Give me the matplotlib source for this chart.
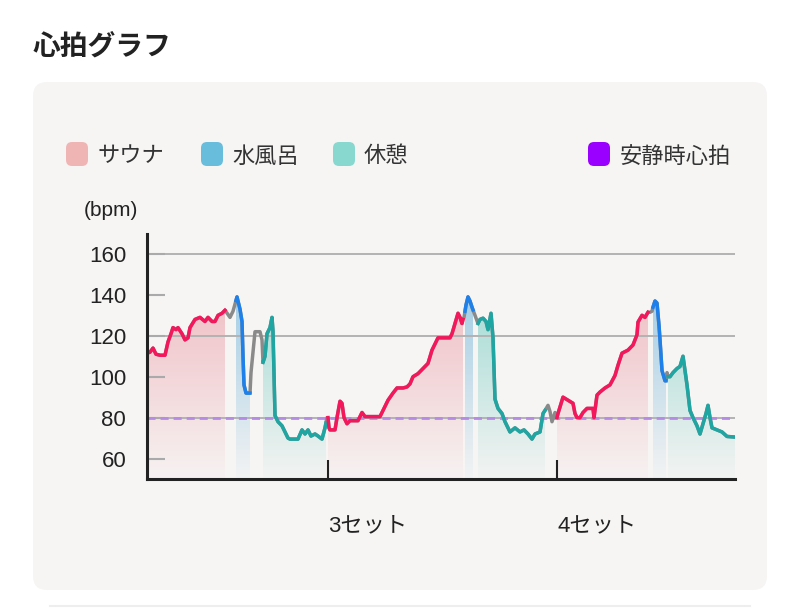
import numpy as np
import matplotlib
matplotlib.use('Agg')
import matplotlib.pyplot as plt
from matplotlib.patches import FancyBboxPatch
from matplotlib.transforms import IdentityTransform

plt.rcParams['font.family'] = ['Liberation Sans', 'Noto Sans CJK JP', 'DejaVu Sans']

# Heart rate samples (elapsed in 15 second steps, bpm)
elapsed = [0, 3, 6, 9, 13, 18, 21, 24, 26, 29, 31, 35, 38, 41, 43, 48, 53, 58, 61, 65, 68, 71, 75, 78,
           83, 86, 90,
           93, 95, 96, 97, 99, 103,
           104, 106, 108, 113, 115, 116,
           118, 120, 123, 125, 126, 128, 131, 135, 138, 141, 143, 148, 151, 155, 158, 161, 164, 168, 171, 175, 178, 180,
           181, 182,
           183, 188, 190, 193, 195, 197, 200, 203, 211, 215, 218, 233, 236, 241, 246, 250, 256, 260, 263, 266,
           271, 276, 281, 285, 288, 291, 303, 305, 308, 311, 313, 315, 316,
           317, 319, 321, 323, 325, 328, 331,
           333, 336, 339, 341, 344, 346, 348, 351, 355, 358, 363, 368, 373, 377, 381, 385, 388, 393, 396,
           398, 401, 403, 405, 408, 410,
           411, 416, 421, 426, 428, 430, 433, 436, 440, 446, 447, 450, 453, 458, 463, 468, 471, 475, 481, 486,
           490, 491, 495, 498, 501,
           503, 505, 506, 508, 510, 512, 513, 515, 518, 519, 520, 521,
           523, 526, 530, 533, 536, 540, 543, 546, 550, 553, 556, 559, 561, 563, 565, 570, 575, 580, 588]
bpm = [111.5, 112, 114, 111, 110.5, 110.5, 117, 121, 124, 123, 124, 121, 118, 119, 124, 128, 129, 127, 129, 127, 127, 130, 131, 132.5,
       129, 132, 139,
       133, 127, 110, 96, 92, 92,
       102, 112, 122, 122, 118, 107,
       110, 121, 124, 129, 122, 81, 78, 76, 73, 70, 69.5, 69.5, 69.5, 74, 72, 74, 71, 72, 71, 69.5, 75, 80,
       80, 75,
       74, 74, 80, 88, 87, 80, 77, 78.5, 78.5, 82.5, 80.5, 80.5, 83.5, 88.5, 92, 94.5, 94.5, 95, 96.5, 100,
       101.5, 104, 106.5, 113, 116, 119, 119, 121, 126, 131, 129, 126, 128,
       129, 135, 139, 137, 134, 130, 126,
       128, 128.6, 127, 123, 131, 119, 89, 84.5, 82, 78, 73, 75, 73, 74, 72, 69.5, 72, 73, 82,
       83.5, 86, 83, 78, 82.5, 80,
       82, 90, 88.5, 87, 82, 80, 80, 82.5, 84.5, 84.5, 80, 91, 92.5, 94.5, 96, 100.6, 105.6, 111.5, 113, 115.5,
       120.5, 126.7, 130, 129, 131.5,
       131.5, 132, 134, 137, 136, 125, 118, 103, 98, 98, 102, 100,
       100, 102, 104, 105, 110, 96, 83.5, 80, 76, 72, 77, 82, 86, 80, 75, 74, 73, 70.8, 70.5]

# Phases of each set
phase_kind = ['sauna', 'water', 'rest', 'sauna', 'water', 'rest', 'sauna', 'water', 'rest']
phase_start = [0, 89, 116, 181, 318, 331, 410, 506, 521]
phase_end = [78, 103, 179, 316, 326, 398, 501, 519, 588]

set_ticks = [181, 410]
set_labels = ['3セット', '4セット']
resting_hr = 80
y_ticks = [60, 80, 100, 120, 140, 160]
grid_levels = [80, 120, 160]

legend_labels = ['サウナ', '水風呂', '休憩', '安静時心拍']
legend_colors = ['#efb5b5', '#68bddd', '#88d8d0', '#9900ff']

line_colors = {'sauna': '#f5175c', 'water': '#1e80ea', 'rest': '#1fa5a2'}
fill_colors = {'sauna': (0.92, 0.58, 0.62), 'water': (0.38, 0.68, 0.85), 'rest': (0.38, 0.78, 0.74)}

W, H = 800, 609
fig = plt.figure(figsize=(W / 100, H / 100), dpi=100)
fig.patch.set_facecolor('white')

# card background
card = FancyBboxPatch((33, H - 590), 734, 508, boxstyle='round,pad=0,rounding_size=14',
                      transform=IdentityTransform(), facecolor='#f7f5f4', edgecolor='none', zorder=-2)
fig.add_artist(card)
fig.add_artist(plt.Line2D([50, 750], [3, 3], transform=IdentityTransform(), color='#eeeeee', lw=1.5, zorder=-2))

fig.text(33 / W, 1 - 47 / H, '心拍グラフ', fontsize=20, fontweight='bold', color='#222222',
         ha='left', va='center', family=['Noto Sans CJK JP'])

# legend
sq_x = [66, 201, 333, 588]
txt_x = [98, 232, 364, 620]
for sx, tx, lab, col in zip(sq_x, txt_x, legend_labels, legend_colors):
    fig.add_artist(FancyBboxPatch((sx, H - 166), 22, 24, boxstyle='round,pad=0,rounding_size=6',
                                  transform=IdentityTransform(), facecolor=col, edgecolor='none'))
    fig.text(tx / W, 1 - 156 / H, lab, fontsize=16, color='#333333', ha='left', va='center',
             family=['Noto Sans CJK JP'])

fig.text(111 / W, 1 - 210 / H, '(bpm)', fontsize=15, color='#222222', ha='center', va='center')

ax = fig.add_axes([147 / W, 1 - 479 / H, 588 / W, (479 - 233.5) / H])
ax.set_facecolor('none')

t = np.array(elapsed, dtype=float)
hr = np.array(bpm, dtype=float)

# gradient fills under each phase
for kind, a, b in zip(phase_kind, phase_start, phase_end):
    inside = (t > a) & (t < b)
    xs = np.concatenate([[a], t[inside], [b]])
    ys = np.concatenate([[np.interp(a, t, hr)], hr[inside], [np.interp(b, t, hr)]])
    poly = ax.fill_between(xs, ys, 50, facecolor='none', edgecolor='none')
    grad = np.zeros((200, 1, 4))
    grad[..., :3] = fill_colors[kind]
    grad[:, 0, 3] = np.linspace(0.03, 0.72, 200)
    im = ax.imshow(grad, extent=[a, b, 50, 170], origin='lower', aspect='auto', zorder=1,
                   interpolation='bilinear')
    im.set_clip_path(poly.get_paths()[0], ax.transData)

for g in grid_levels:
    ax.axhline(g, color='#b3b3b3', lw=1.4, zorder=1.5)
ax.axhline(resting_hr, color='#b58be6', lw=2.0, dashes=(2.9, 1.8), zorder=1.6)

# heart rate line: gray in transitions, coloured in phases
ax.plot(t, hr, color='#8a8a8a', lw=2.5, zorder=3, solid_joinstyle='round')
for kind, a, b in zip(phase_kind, phase_start, phase_end):
    inside = (t > a) & (t < b)
    xs = np.concatenate([[a], t[inside], [b]])
    ys = np.concatenate([[np.interp(a, t, hr)], hr[inside], [np.interp(b, t, hr)]])
    ax.plot(xs, ys, color=line_colors[kind], lw=2.5, zorder=4, solid_joinstyle='round')

ax.set_xlim(0, 588)
ax.set_ylim(50, 170)

for s in ['top', 'right']:
    ax.spines[s].set_visible(False)
for s in ['left', 'bottom']:
    ax.spines[s].set_color('#222222')
    ax.spines[s].set_linewidth(2.2)
    ax.spines[s].set_zorder(5)

ax.set_yticks(y_ticks)
ax.tick_params(axis='y', direction='in', length=13, width=1.5, color='#aaaaaa', pad=15,
               labelsize=16, labelcolor='#222222')
ax.set_xticks(set_ticks)
ax.set_xticklabels(set_labels)
ax.tick_params(axis='x', direction='in', length=14, width=1.5, color='#222222', pad=26,
               labelsize=16, labelcolor='#222222')
for lab in ax.get_xticklabels():
    lab.set_ha('left')

fig.savefig('out.png', dpi=100)
